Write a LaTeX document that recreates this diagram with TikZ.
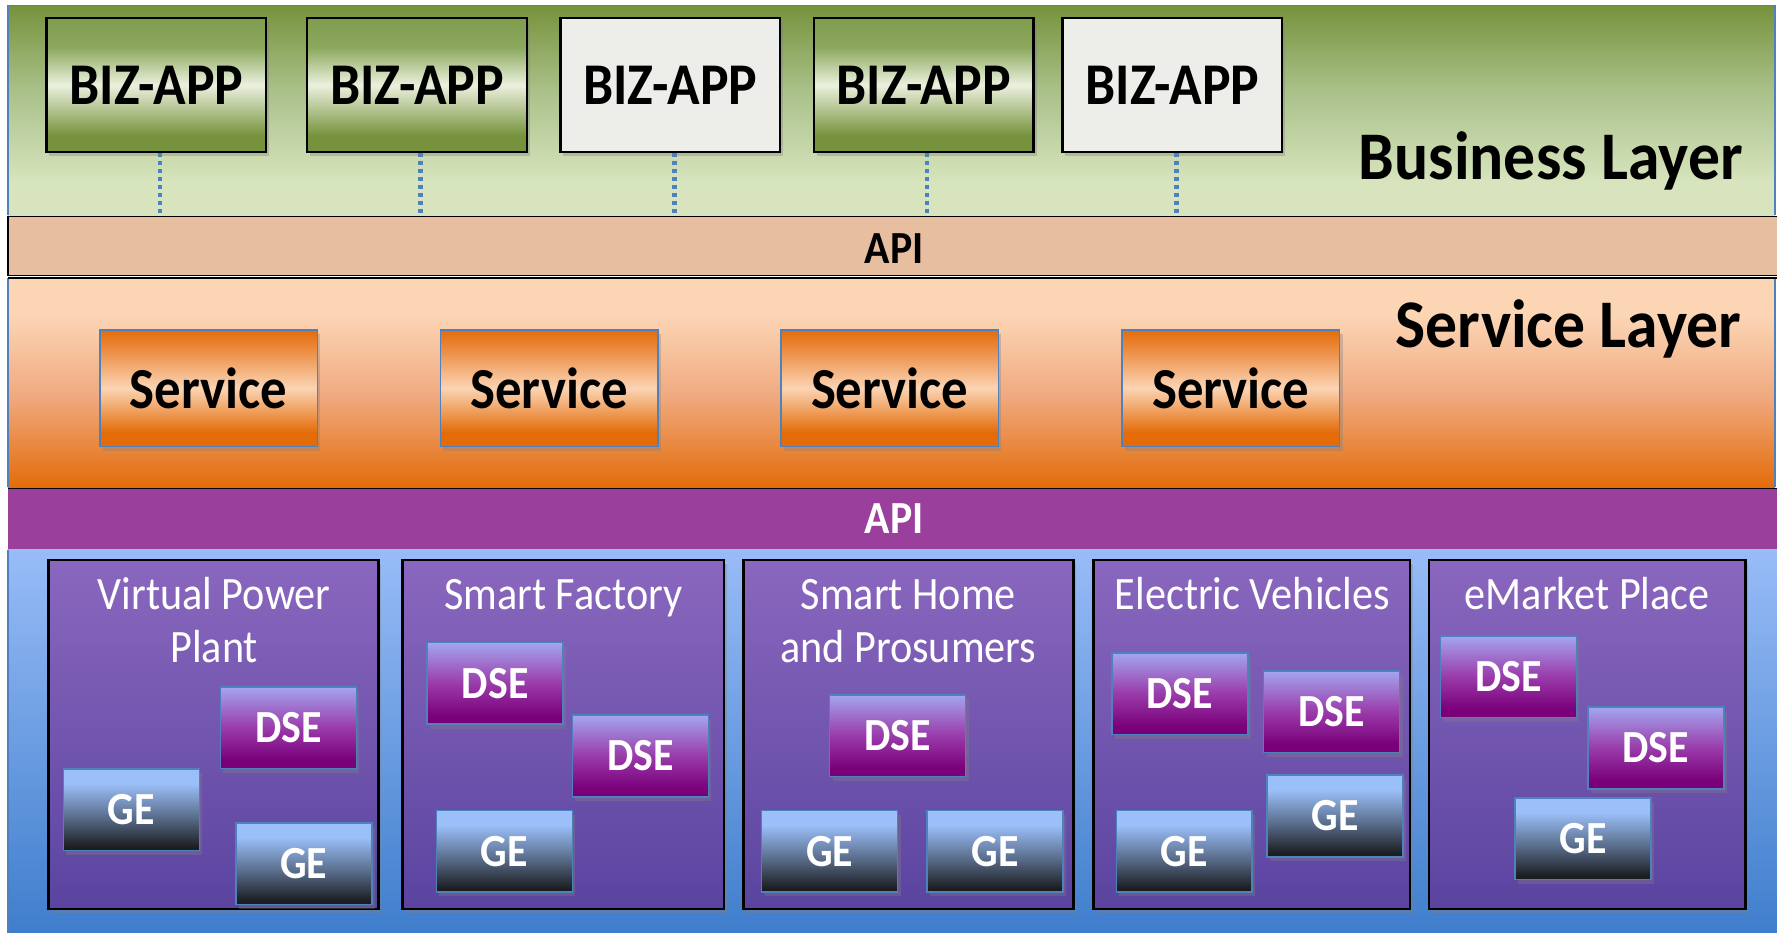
\documentclass[tikz,border=0pt]{standalone}
\usepackage{fontspec}
\setmainfont{Carlito}
\usetikzlibrary{shadows}

\definecolor{bizdark}{HTML}{76923C}
\definecolor{bizmid}{HTML}{A9C088}
\definecolor{bizlight}{HTML}{D7E4BD}
\definecolor{svtop}{HTML}{FCD5B5}
\definecolor{svmid}{HTML}{F0AA80}
\definecolor{svbot}{HTML}{E36C0A}
\definecolor{apitan}{HTML}{E7BEA0}
\definecolor{apipurple}{HTML}{9B3F9D}
\definecolor{blutop}{HTML}{98BCF7}
\definecolor{blubot}{HTML}{3F7ECC}
\definecolor{domtop}{HTML}{8A67BE}
\definecolor{dombot}{HTML}{5A44A0}
\definecolor{frameblue}{HTML}{4F81BD}
\definecolor{gbd}{HTML}{76923C}
\definecolor{gbt}{HTML}{809C4D}
\definecolor{gbl}{HTML}{EBF1DE}
\definecolor{gbu}{HTML}{8CA85E}
\definecolor{obd}{HTML}{E36C09}
\definecolor{obu}{HTML}{EC8E44}
\definecolor{obl}{HTML}{FBD4B4}
\definecolor{dsetop}{HTML}{A4A6EF}
\definecolor{dsemid}{HTML}{9A3BAA}
\definecolor{dsebot}{HTML}{7A007A}
\definecolor{getop}{HTML}{9BBFF9}
\definecolor{gemid}{HTML}{5E7393}
\definecolor{gebot}{HTML}{1B1D21}
\definecolor{grayapp}{HTML}{EDEEE9}

\pgfdeclareverticalshading{bizbg}{100bp}{color(0bp)=(bizlight); color(33bp)=(bizlight); color(55bp)=(bizmid); color(75bp)=(bizdark); color(100bp)=(bizdark)}
\pgfdeclareverticalshading{svbg}{100bp}{color(0bp)=(svbot); color(25bp)=(svbot); color(47bp)=(svmid); color(66bp)=(svtop); color(100bp)=(svtop)}
\pgfdeclareverticalshading{bizgrad}{100bp}{color(0bp)=(gbd); color(31bp)=(gbd); color(50bp)=(gbl); color(64bp)=(gbu); color(75bp)=(gbt); color(100bp)=(gbt)}
\pgfdeclareverticalshading{svgrad}{100bp}{color(0bp)=(obd); color(31bp)=(obd); color(50bp)=(obl); color(66bp)=(obu); color(75bp)=(obd); color(100bp)=(obd)}
\pgfdeclareverticalshading{dsegrad}{100bp}{color(0bp)=(dsebot); color(30bp)=(dsebot); color(50bp)=(dsemid); color(75bp)=(dsetop); color(100bp)=(dsetop)}
\pgfdeclareverticalshading{gegrad}{100bp}{color(0bp)=(gebot); color(27bp)=(gebot); color(47bp)=(gemid); color(66bp)=(getop); color(100bp)=(getop)}

\newcommand\tall[1]{\scalebox{1}[1.1]{#1}}
\newcommand\twolines[2]{\tall{\begin{tabular}[t]{@{}c@{}}#1\\#2\end{tabular}}}

\tikzset{
  myshadow/.style={drop shadow={opacity=0.35, shadow xshift=1.5pt, shadow yshift=-2.2pt}},
  bizbox/.style={draw=black, line width=1.1pt, minimum width=3.88cm, minimum height=2.36cm, inner sep=0pt,
    font=\fontsize{27pt}{32pt}\selectfont\bfseries, myshadow},
  bizgreen/.style={bizbox, shading=bizgrad},
  bizgray/.style={bizbox, fill=grayapp},
  svbox/.style={draw=frameblue, line width=0.8pt, minimum width=3.84cm, minimum height=2.06cm, inner sep=0pt,
    shading=svgrad, font=\fontsize{26.5pt}{31pt}\selectfont\bfseries, myshadow},
  dombox/.style={draw=black, line width=1.3pt, inner sep=0pt, top color=domtop, bottom color=dombot, myshadow},
  domtitle/.style={text=white, anchor=base, inner sep=0pt, font=\fontsize{21.2pt}{24pt}\selectfont},
  smallbox/.style={draw=frameblue, line width=0.8pt, minimum width=2.4cm, minimum height=1.44cm, inner sep=0pt,
    text=white, font=\fontsize{21pt}{25pt}\selectfont\bfseries, myshadow},
  dse/.style={smallbox, shading=dsegrad},
  ge/.style={smallbox, shading=gegrad},
  layertitle/.style={font=\fontsize{32pt}{36pt}\selectfont\bfseries, anchor=base east, inner sep=0pt},
  apitext/.style={font=\fontsize{21pt}{25pt}\selectfont\bfseries, inner sep=0pt},
  dotline/.style={draw=frameblue, line width=2.2pt, dash pattern=on 2.2pt off 1.8pt},
}

\begin{document}
\begin{tikzpicture}[x=0.02cm, y=-0.02cm]
\useasboundingbox (0,0) rectangle (1568,823);
\fill[white] (0,0) rectangle (1568,823);

% layer bands
\shade[shading=bizbg] (7,5) rectangle (1566,190);
\draw[frameblue, line width=0.8pt] (7,190) -- (7,5) -- (1566,5) -- (1566,190);
\fill[apitan] (7,191) rectangle (1568,243);
\draw[black, line width=0.9pt] (7,191) rectangle (1570,243);
\shade[shading=svbg] (7,245) rectangle (1566,430);
\draw[frameblue, line width=0.8pt] (7,245) -- (7,430) (1566,245) -- (1566,430);
\draw[black, line width=0.9pt] (7,245) -- (1568,245);
\fill[apipurple] (7,431) rectangle (1568,484);
\draw[black, line width=0.9pt] (7,431) -- (1568,431);
\shade[top color=blutop, bottom color=blubot] (7,485) rectangle (1568,823);
\draw[frameblue, line width=0.8pt] (7,485) -- (7,823);

% API labels
\node[apitext] (api1) at (789,219) {\tall{API}};
\node[apitext, text=white] (api2) at (789,458) {\tall{API}};
\coordinate (apitop) at (0,190);

% layer titles
\node[layertitle] (bl) at (1538,158) {\scalebox{1}[1.07]{Business Layer}};
\node[layertitle] (sl) at (1537,307) {\scalebox{1}[1.07]{Service Layer}};

% dotted connector anchors
\coordinate (b1a) at (141,134);
\coordinate (b2a) at (371,134);
\coordinate (b3a) at (595,120);
\coordinate (b4a) at (818,134);
\coordinate (b5a) at (1038,120);

% BIZ-APP boxes
\node[bizgreen] (b1) at (138,75) {\tall{BIZ-APP}};
\node[bizgreen] (b2) at (368,75) {\tall{BIZ-APP}};
\node[bizgray]  (b3) at (591.5,75) {\tall{BIZ-APP}};
\node[bizgreen] (b4) at (815,75) {\tall{BIZ-APP}};
\node[bizgray]  (b5) at (1034.5,75) {\tall{BIZ-APP}};
\draw[dotline] (b1.south -| b1a) -- (b1a |- apitop);
\draw[dotline] (b2.south -| b2a) -- (b2a |- apitop);
\draw[dotline] (b3.south -| b3a) -- (b3a |- apitop);
\draw[dotline] (b4.south -| b4a) -- (b4a |- apitop);
\draw[dotline] (b5.south -| b5a) -- (b5a |- apitop);

% services
\node[svbox] (s1) at (184,342.5) {\tall{Service}};
\node[svbox] (s2) at (484.5,342.5) {\tall{Service}};
\node[svbox] (s3) at (785,342.5) {\tall{Service}};
\node[svbox] (s4) at (1086,342.5) {\tall{Service}};

% domain boxes
\node[dombox, minimum width=5.82cm, minimum height=6.16cm] (d1) at (188.5,648) {};
\node[dombox, minimum width=5.68cm, minimum height=6.16cm] (d2) at (497,648) {};
\node[dombox, minimum width=5.82cm, minimum height=6.16cm] (d3) at (801.5,648) {};
\node[dombox, minimum width=5.58cm, minimum height=6.16cm] (d4) at (1104.5,648) {};
\node[dombox, minimum width=5.58cm, minimum height=6.16cm] (d5) at (1400.5,648) {};

\node[domtitle] (t1) at (189,538) {\twolines{Virtual Power}{Plant}};
\node[domtitle] (t2) at (497,538) {\tall{Smart Factory}};
\node[domtitle] (t3) at (801.5,538) {\twolines{Smart Home}{and Prosumers}};
\node[domtitle] (t4) at (1105,538) {\tall{Electric Vehicles}};
\node[domtitle] (t5) at (1400.5,538) {\tall{eMarket Place}};

% components
\node[dse] (d1a) at (254.5,642) {\tall{DSE}};
\node[ge]  (d1b) at (116,714.5) {\tall{GE}};
\node[ge]  (d1c) at (268,762) {\tall{GE}};

\node[dse] (d2a) at (437,603) {\tall{DSE}};
\node[dse] (d2b) at (565,667) {\tall{DSE}};
\node[ge]  (d2c) at (445,751) {\tall{GE}};

\node[dse] (d3a) at (792,649) {\tall{DSE}};
\node[ge]  (d3b) at (732,751) {\tall{GE}};
\node[ge]  (d3c) at (878,751) {\tall{GE}};

\node[dse] (d4a) at (1041,612) {\tall{DSE}};
\node[dse] (d4b) at (1175,628) {\tall{DSE}};
\node[ge]  (d4c) at (1045,751) {\tall{GE}};
\node[ge]  (d4d) at (1178,720) {\tall{GE}};

\node[dse] (d5a) at (1331,597) {\tall{DSE}};
\node[dse] (d5b) at (1461,660) {\tall{DSE}};
\node[ge]  (d5c) at (1397,740) {\tall{GE}};
\end{tikzpicture}
\end{document}
